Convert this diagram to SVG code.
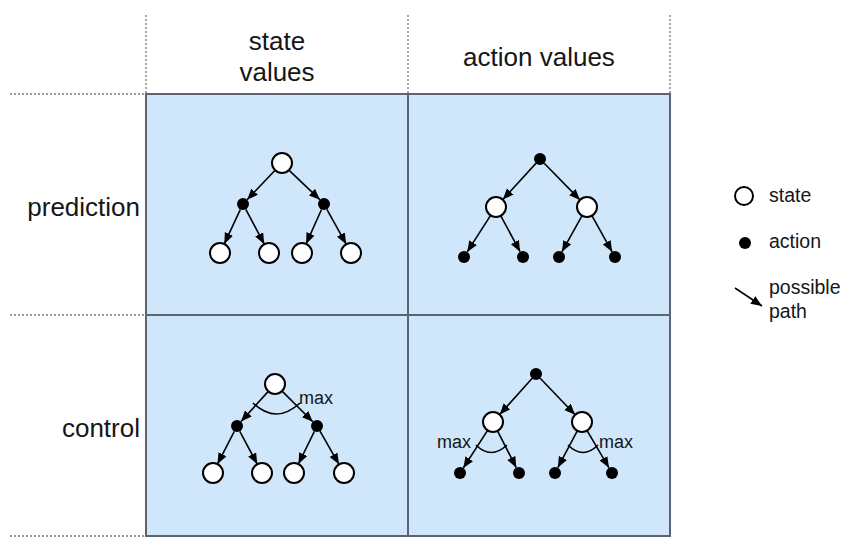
<svg xmlns="http://www.w3.org/2000/svg" width="855" height="552" viewBox="0 0 855 552">
<style>
.lbl{font-family:"Liberation Sans",Arial,sans-serif;fill:#161616;}
.hdr{font-size:26px;text-anchor:middle;}
.row{font-size:26px;text-anchor:end;}
.leg{font-size:19.5px;}
.mx{font-size:18px;}
.grid{fill:#d0e6fb;stroke:#5b6470;stroke-width:2;}
.dot{stroke:#777;stroke-width:1.3;stroke-dasharray:2 2;fill:none;}
.s{fill:#fff;stroke:#000;stroke-width:2;}
.a{fill:#000;}
.e{stroke:#000;stroke-width:1.6;fill:none;marker-end:url(#ah);}
.arc{stroke:#000;stroke-width:1.6;fill:none;}
</style>
<defs>
<marker id="ah" markerUnits="userSpaceOnUse" markerWidth="12" markerHeight="10" refX="11" refY="4.5" orient="auto">
<path d="M0,0 L11,4.5 L0,9 z" fill="#000"/>
</marker>
</defs>
<rect width="855" height="552" fill="#fff"/>
<g id="grid">
<line class="dot" x1="146" y1="15" x2="146" y2="94"/>
<line class="dot" x1="408" y1="15" x2="408" y2="94"/>
<line class="dot" x1="670" y1="15" x2="670" y2="94"/>
<line class="dot" x1="10" y1="94" x2="146" y2="94"/>
<line class="dot" x1="10" y1="315" x2="146" y2="315"/>
<line class="dot" x1="10" y1="536" x2="146" y2="536"/>
<rect class="grid" x="146" y="94" width="262" height="221"/>
<rect class="grid" x="408" y="94" width="262" height="221"/>
<rect class="grid" x="146" y="315" width="262" height="221"/>
<rect class="grid" x="408" y="315" width="262" height="221"/>
</g>
<g id="headers">
<text class="lbl hdr" x="277" y="50">state</text>
<text class="lbl hdr" x="277" y="81">values</text>
<text class="lbl hdr" x="539" y="66">action values</text>
<text class="lbl row" x="140" y="216">prediction</text>
<text class="lbl row" x="140" y="437">control</text>
</g>
<g id="connectors">
<!-- tree 1 -->
<line class="e" x1="275.1" y1="170.2" x2="247.1" y2="199.7"/>
<line class="e" x1="288.9" y1="170.2" x2="319.9" y2="199.7"/>
<line class="e" x1="240.4" y1="209.4" x2="224.3" y2="243.9"/>
<line class="e" x1="245.8" y1="209.3" x2="264.3" y2="244.2"/>
<line class="e" x1="321.5" y1="209.5" x2="306.1" y2="243.9"/>
<line class="e" x1="326.9" y1="209.3" x2="346.2" y2="244.2"/>
<!-- tree 2 -->
<line class="e" x1="535.9" y1="163.4" x2="502.8" y2="199.6"/>
<line class="e" x1="544.2" y1="163.3" x2="580.0" y2="199.9"/>
<line class="e" x1="490.6" y1="215.4" x2="467.2" y2="251.9"/>
<line class="e" x1="500.8" y1="215.8" x2="520.1" y2="251.7"/>
<line class="e" x1="582.1" y1="215.7" x2="561.9" y2="251.8"/>
<line class="e" x1="591.9" y1="215.7" x2="612.1" y2="251.8"/>
<!-- tree 3 -->
<line class="e" x1="268.3" y1="391.4" x2="241.0" y2="421.5"/>
<line class="e" x1="282.1" y1="391.1" x2="312.8" y2="421.8"/>
<line class="e" x1="234.3" y1="431.3" x2="217.5" y2="464.1"/>
<line class="e" x1="239.8" y1="431.3" x2="257.3" y2="464.2"/>
<line class="e" x1="314.4" y1="431.4" x2="298.4" y2="464.0"/>
<line class="e" x1="320.0" y1="431.2" x2="339.0" y2="464.3"/>
<!-- tree 4 -->
<line class="e" x1="532.0" y1="378.5" x2="499.7" y2="414.5"/>
<line class="e" x1="540.2" y1="378.3" x2="575.1" y2="414.8"/>
<line class="e" x1="487.6" y1="430.4" x2="463.3" y2="468.0"/>
<line class="e" x1="497.5" y1="430.9" x2="516.3" y2="467.7"/>
<line class="e" x1="577.3" y1="430.8" x2="557.8" y2="467.7"/>
<line class="e" x1="587.1" y1="430.6" x2="609.0" y2="467.8"/>
<!-- legend -->
<line class="e" x1="735" y1="288" x2="762" y2="306"/>
</g>
<g id="max-arcs">
<path class="arc" d="M253,403 Q276,425 300,403"/>
<text class="lbl mx" x="299" y="404">max</text>
<path class="arc" d="M476,445 Q491,460 507,445"/>
<text class="lbl mx" x="437" y="448">max</text>
<path class="arc" d="M568,445 Q583,460 598,445"/>
<text class="lbl mx" x="599" y="448">max</text>
</g>
<g id="tree1">
<circle class="s" cx="282" cy="163" r="10"/>
<circle class="a" cx="243" cy="204" r="6"/>
<circle class="a" cx="324" cy="204" r="6"/>
<circle class="s" cx="220" cy="253" r="10"/>
<circle class="s" cx="269" cy="253" r="10"/>
<circle class="s" cx="302" cy="253" r="10"/>
<circle class="s" cx="351" cy="253" r="10"/>
</g>
<g id="tree2">
<circle class="a" cx="540" cy="159" r="6"/>
<circle class="s" cx="496" cy="207" r="10"/>
<circle class="s" cx="587" cy="207" r="10"/>
<circle class="a" cx="464" cy="257" r="6"/>
<circle class="a" cx="523" cy="257" r="6"/>
<circle class="a" cx="559" cy="257" r="6"/>
<circle class="a" cx="615" cy="257" r="6"/>
</g>
<g id="tree3">
<circle class="s" cx="275" cy="384" r="10"/>
<circle class="a" cx="237" cy="426" r="6"/>
<circle class="a" cx="317" cy="426" r="6"/>
<circle class="s" cx="213" cy="473" r="10"/>
<circle class="s" cx="262" cy="473" r="10"/>
<circle class="s" cx="294" cy="473" r="10"/>
<circle class="s" cx="344" cy="473" r="10"/>
</g>
<g id="tree4">
<circle class="a" cx="536" cy="374" r="6"/>
<circle class="s" cx="493" cy="422" r="10"/>
<circle class="s" cx="582" cy="422" r="10"/>
<circle class="a" cx="460" cy="473" r="6"/>
<circle class="a" cx="519" cy="473" r="6"/>
<circle class="a" cx="555" cy="473" r="6"/>
<circle class="a" cx="612" cy="473" r="6"/>
</g>
<g id="legend">
<circle class="s" cx="744" cy="196" r="9"/>
<text class="lbl leg" x="769" y="202">state</text>
<circle class="a" cx="745" cy="243" r="6"/>
<text class="lbl leg" x="769" y="248">action</text>
<text class="lbl leg" x="769" y="294">possible</text>
<text class="lbl leg" x="769" y="318">path</text>
</g>
</svg>
